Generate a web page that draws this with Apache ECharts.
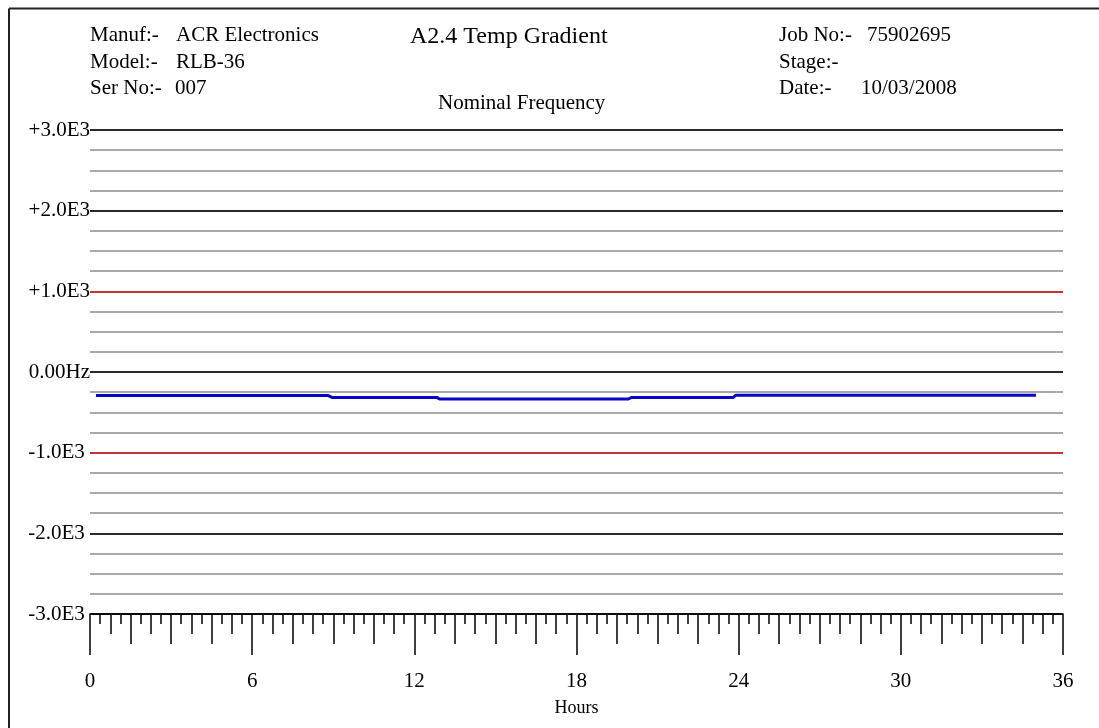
<!DOCTYPE html>
<html>
<head>
<meta charset="utf-8">
<script src="https://cdn.jsdelivr.net/npm/echarts@6/dist/echarts.min.js"></script>
<style>
html,body{margin:0;padding:0;background:#fff;}
#chart{width:1099px;height:728px;}
</style>
</head>
<body>
<div id="chart"></div>
<script>
// ---- data ----
var hours = [0.22, 2.32, 3.0, 5.16, 5.82, 7.87, 8.57, 8.8, 8.95, 10.6, 11.35, 12.83, 12.93, 13.4, 14.1, 16.15, 16.9, 19.0, 19.92, 20.04, 21.7, 22.4, 23.8, 23.9, 24.5, 25.2, 27.3, 28.0, 30.1, 30.8, 32.8, 33.5, 35.0];
var freqHz = [-290, -290, -290, -290, -290, -290, -290, -290, -315, -315, -315, -315, -335, -335, -335, -335, -335, -335, -335, -315, -315, -315, -315, -287, -287, -287, -287, -287, -287, -287, -287, -287, -287];
var yTickValues = [-3000, -2000, -1000, 0, 1000, 2000, 3000];
var yTickLabels = ['-3.0E3 ', '-2.0E3 ', '-1.0E3 ', '0.00Hz', '+1.0E3', '+2.0E3', '+3.0E3'];
var xLabelValues = [0, 6, 12, 18, 24, 30, 36];
var xLabelTexts = ['0', '6', '12', '18', '24', '30', '36'];

var FONT = 'Liberation Serif';
var seriesData = hours.map(function (h, i) { return [h, freqHz[i]]; });

function xAx(interval, len, showLabel, extra) {
  var a = {
    type: 'value', gridIndex: 0, position: 'bottom', min: 0, max: 36, interval: interval,
    axisLine: { show: false, onZero: false },
    axisTick: { show: true, length: len, lineStyle: { color: '#000', width: 1.5 } },
    axisLabel: { show: false },
    splitLine: { show: false }
  };
  if (showLabel) {
    a.axisLabel = {
      show: true, margin: 57, color: '#000', fontFamily: FONT, fontSize: 21,
      formatter: function (v) { var k = xLabelValues.indexOf(v); return k >= 0 ? xLabelTexts[k] : ''; }
    };
    a.name = 'Hours';
    a.nameLocation = 'middle';
    a.nameGap = 85;
    a.nameTextStyle = { color: '#000', fontFamily: FONT, fontSize: 18 };
  }
  if (extra) { for (var k in extra) a[k] = extra[k]; }
  return a;
}

var chart = echarts.init(document.getElementById('chart'), null, { renderer: 'canvas' });
chart.setOption({
  animation: false,
  backgroundColor: '#fff',
  grid: { left: 90, right: 36, top: 130, bottom: 114, containLabel: false },
  xAxis: [
    xAx(0.375, 10, false, { axisLine: { show: true, onZero: false, lineStyle: { color: '#000', width: 1.5 } } }),
    xAx(0.75, 20, false),
    xAx(1.5, 30, false),
    xAx(6, 41, true)
  ],
  yAxis: [
    {
      type: 'value', gridIndex: 0, position: 'left', min: -3000, max: 3000, interval: 250,
      axisLine: { show: false, onZero: false }, axisTick: { show: false }, axisLabel: { show: false },
      splitLine: { show: true, lineStyle: { color: '#8c8c8c', width: 1.5 } }
    },
    {
      type: 'value', gridIndex: 0, position: 'left', min: -3000, max: 3000, interval: 1000, z: 2,
      axisLine: { show: false, onZero: false }, axisTick: { show: false },
      axisLabel: {
        show: true, margin: 0, color: '#000', fontFamily: FONT, fontSize: 21,
        formatter: function (v) { var k = yTickValues.indexOf(v); return k >= 0 ? yTickLabels[k] : ''; }
      },
      splitLine: { show: true, lineStyle: { color: ['#000', '#000', '#cc1111', '#000', '#cc1111', '#000', '#000'], width: 1.5 } }
    }
  ],
  series: [{
    type: 'line', xAxisIndex: 0, yAxisIndex: 0, data: seriesData,
    showSymbol: false, symbol: 'none', z: 5,
    lineStyle: { color: '#0606c4', width: 3 }
  }],
  graphic: [
    { type: 'line', shape: { x1: 9, y1: 8.5, x2: 1099, y2: 8.5 }, style: { stroke: '#222', lineWidth: 2 } },
    { type: 'line', shape: { x1: 9, y1: 8.5, x2: 9, y2: 728 }, style: { stroke: '#222', lineWidth: 2 } },
    { type: 'text', left: 90, top: 25, style: { text: 'Manuf:-', font: '21px "Liberation Serif"', fill: '#000' } },
    { type: 'text', left: 176, top: 25, style: { text: 'ACR Electronics', font: '21px "Liberation Serif"', fill: '#000' } },
    { type: 'text', left: 90, top: 52, style: { text: 'Model:-', font: '21px "Liberation Serif"', fill: '#000' } },
    { type: 'text', left: 176, top: 52, style: { text: 'RLB-36', font: '21px "Liberation Serif"', fill: '#000' } },
    { type: 'text', left: 90, top: 78, style: { text: 'Ser No:-', font: '21px "Liberation Serif"', fill: '#000' } },
    { type: 'text', left: 175, top: 78, style: { text: '007', font: '21px "Liberation Serif"', fill: '#000' } },
    { type: 'text', left: 410, top: 25, style: { text: 'A2.4 Temp Gradient', font: '24px "Liberation Serif"', fill: '#000' } },
    { type: 'text', left: 438, top: 93, style: { text: 'Nominal Frequency', font: '21px "Liberation Serif"', fill: '#000' } },
    { type: 'text', left: 779, top: 25, style: { text: 'Job No:-', font: '21px "Liberation Serif"', fill: '#000' } },
    { type: 'text', left: 867, top: 25, style: { text: '75902695', font: '21px "Liberation Serif"', fill: '#000' } },
    { type: 'text', left: 779, top: 52, style: { text: 'Stage:-', font: '21px "Liberation Serif"', fill: '#000' } },
    { type: 'text', left: 779, top: 78, style: { text: 'Date:-', font: '21px "Liberation Serif"', fill: '#000' } },
    { type: 'text', left: 861, top: 78, style: { text: '10/03/2008', font: '21px "Liberation Serif"', fill: '#000' } }
  ]
});
</script>
</body>
</html>
